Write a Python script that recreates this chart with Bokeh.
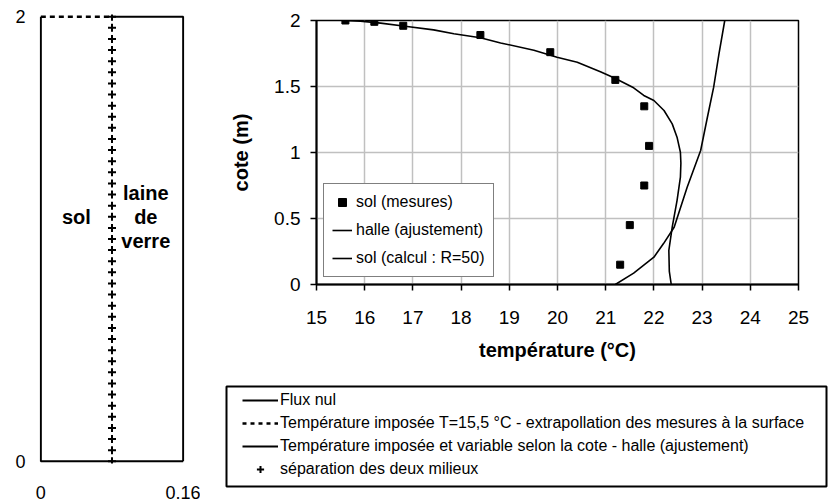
from bokeh.plotting import figure
from bokeh.models import Range1d, FixedTicker, NumeralTickFormatter, Legend, LegendItem
from bokeh.layouts import row, column
from bokeh.embed import file_html
from bokeh.resources import INLINE
from bokeh.core.properties import value

FONT = "Liberation Sans"

# ---------------- data : temperature profiles ----------------
mes_T = [15.6, 16.2, 16.8, 18.4, 19.85, 21.2, 21.8, 21.9, 21.8, 21.5, 21.3]
mes_z = [2.0, 1.99, 1.96, 1.89, 1.76, 1.55, 1.35, 1.05, 0.75, 0.45, 0.15]

halle_T = [21.2, 21.58, 22.0, 22.2, 22.42, 22.69, 22.97, 23.11, 23.24, 23.35, 23.47]
halle_z = [0.0, 0.086, 0.207, 0.31, 0.434, 0.737, 1.015, 1.267, 1.495, 1.747, 2.0]

sol_T = [22.36, 22.32, 22.31, 22.38, 22.48, 22.55, 22.56, 22.55, 22.48, 22.38, 22.21,
         22.0, 21.79, 21.58, 21.17, 20.89, 20.41, 19.99, 19.51, 18.82, 18.40, 17.85,
         17.43, 16.88, 16.33, 15.91, 15.57]
sol_z = [0.0, 0.1, 0.258, 0.434, 0.636, 0.813, 0.92, 1.002, 1.116, 1.217, 1.318,
         1.394, 1.432, 1.49, 1.566, 1.612, 1.684, 1.722, 1.775, 1.83, 1.869, 1.899,
         1.929, 1.955, 1.98, 1.995, 2.0]

temp_ticks = [15, 16, 17, 18, 19, 20, 21, 22, 23, 24, 25]
cote_ticks = [0, 0.5, 1, 1.5, 2]

# ---------------- data : schematic ----------------
schema_x_ticks = [0, 0.16]
schema_z_ticks = [0, 2]
flux_x = [0.0, 0.0, 0.16]
flux_z = [2.0, 0.0, 0.0]
imposed_x = [0.0, 0.08]
imposed_z = [2.0, 2.0]
variable_x = [0.08, 0.16, 0.16]
variable_z = [2.0, 2.0, 0.0]
sep_z = [0.0, 0.05, 0.1, 0.15, 0.2, 0.25, 0.3, 0.35, 0.4, 0.45, 0.5, 0.55, 0.6, 0.65,
         0.7, 0.75, 0.8, 0.85, 0.9, 0.95, 1.0, 1.05, 1.1, 1.15, 1.2, 1.25, 1.3, 1.35,
         1.4, 1.45, 1.5, 1.55, 1.6, 1.65, 1.7, 1.75, 1.8, 1.85, 1.9, 1.95, 2.0]
sep_x = [0.08] * len(sep_z)
region_labels = ["sol", "laine", "de", "verre"]
region_x = [0.04, 0.118, 0.118, 0.118]
region_z = [1.10, 1.205, 1.097, 0.99]

legend_labels = ["Flux nul",
                 "Température imposée T=15,5 °C - extrapollation des mesures à la surface",
                 "Température imposée et variable selon la cote - halle (ajustement)",
                 "séparation des deux milieux"]


def no_frame_align(fig):
    if "frame_align" in fig.properties():
        fig.frame_align = False


# ---------------- left : schematic ----------------
left = figure(width=200, height=501, x_range=Range1d(-0.0015, 0.1615),
              y_range=Range1d(-0.01, 2.01), output_backend="svg", toolbar_location=None,
              min_border_left=39, min_border_right=16, min_border_top=14, min_border_bottom=35)
no_frame_align(left)
left.outline_line_color = None
left.grid.visible = False
for ax in (left.xaxis, left.yaxis):
    ax.axis_line_color = None
    ax.major_tick_line_color = None
    ax.minor_tick_line_color = None
    ax.major_label_text_font = FONT
    ax.major_label_text_font_size = "18px"
    ax.major_label_text_color = "black"
    ax.formatter = NumeralTickFormatter(format="0.[00]")
left.xaxis.ticker = FixedTicker(ticks=schema_x_ticks)
left.yaxis.ticker = FixedTicker(ticks=schema_z_ticks)
left.xaxis.major_label_standoff = 16
left.yaxis.major_label_standoff = 8

left.line(flux_x, flux_z, line_color="black", line_width=2)
left.line(variable_x, variable_z, line_color="black", line_width=2)
left.line(imposed_x, imposed_z, line_color="black", line_width=2.5, line_dash="5 4")
left.scatter(sep_x, sep_z, marker="cross", size=8, line_color="black", line_width=2)
left.text(x=region_x, y=region_z, text=region_labels, text_font=value(FONT),
          text_font_style="bold", text_font_size="20px", text_align="center",
          text_baseline="middle", text_color="black")

# ---------------- right : temperature profiles ----------------
right = figure(width=628, height=370, x_range=Range1d(15, 25), y_range=Range1d(0, 2),
               output_backend="svg", toolbar_location=None,
               min_border_left=116, min_border_right=30, min_border_top=20, min_border_bottom=86)
no_frame_align(right)
right.outline_line_color = "black"
right.outline_line_width = 1.5
right.xgrid.grid_line_color = "#c0c0c0"
right.ygrid.grid_line_color = "#c0c0c0"
right.xgrid.grid_line_width = 1.5
right.ygrid.grid_line_width = 1.5
right.xaxis.ticker = FixedTicker(ticks=temp_ticks)
right.yaxis.ticker = FixedTicker(ticks=cote_ticks)
right.yaxis.formatter = NumeralTickFormatter(format="0.[0]")
for ax in (right.xaxis, right.yaxis):
    ax.axis_line_color = "black"
    ax.axis_line_width = 2
    ax.major_tick_line_color = "black"
    ax.major_tick_line_width = 1.5
    ax.major_tick_out = 6
    ax.major_tick_in = 0
    ax.minor_tick_line_color = None
    ax.major_label_text_font = FONT
    ax.major_label_text_font_size = "19px"
    ax.major_label_text_color = "black"
    ax.axis_label_text_font = FONT
    ax.axis_label_text_font_size = "20px"
    ax.axis_label_text_font_style = "bold"
    ax.axis_label_text_color = "black"
right.xaxis.axis_label = "température (°C)"
right.yaxis.axis_label = "cote (m)"
right.xaxis.major_label_standoff = 20
right.xaxis.axis_label_standoff = 12
right.yaxis.major_label_standoff = 10
right.yaxis.axis_label_standoff = 19

r_halle = right.line(halle_T, halle_z, line_color="black", line_width=1.6)
r_sol = right.line(sol_T, sol_z, line_color="black", line_width=1.6)
r_mes = right.scatter(mes_T, mes_z, marker="square", size=7, fill_color="black", line_color="black")

inner = Legend(items=[LegendItem(label="sol (mesures)", renderers=[r_mes]),
                      LegendItem(label="halle (ajustement)", renderers=[r_halle]),
                      LegendItem(label="sol (calcul : R=50)", renderers=[r_sol])],
               location=(7, 7), border_line_color="black", border_line_width=1.5,
               background_fill_color="white", background_fill_alpha=1.0,
               padding=8, margin=0, spacing=8, label_height=20, glyph_height=20,
               glyph_width=20, label_standoff=4, label_text_font=FONT,
               label_text_font_size="16px", label_text_color="black")
right.add_layout(inner, "center")

# ---------------- bottom : schematic legend ----------------
# ranges placed far from the schematic data so the legend's own renderers stay off-screen;
# the frame outline is the legend box
leg = figure(width=628, height=131, x_range=Range1d(100, 101), y_range=Range1d(100, 101),
             x_axis_type=None, y_axis_type=None, output_backend="svg", toolbar_location=None,
             min_border_left=26, min_border_right=2, min_border_top=16, min_border_bottom=15)
no_frame_align(leg)
leg.grid.visible = False
leg.outline_line_color = "black"
leg.outline_line_width = 2
d_flux = leg.line(flux_x, flux_z, line_color="black", line_width=2)
d_imp = leg.line(imposed_x, imposed_z, line_color="black", line_width=2.5, line_dash="4 4")
d_var = leg.line(variable_x, variable_z, line_color="black", line_width=2)
d_sep = leg.scatter(sep_x, sep_z, marker="cross", size=8, line_color="black", line_width=2)
outer = Legend(items=[LegendItem(label=legend_labels[0], renderers=[d_flux]),
                      LegendItem(label=legend_labels[1], renderers=[d_imp]),
                      LegendItem(label=legend_labels[2], renderers=[d_var]),
                      LegendItem(label=legend_labels[3], renderers=[d_sep])],
               location=(16, 8), border_line_color=None, background_fill_alpha=0,
               padding=0, margin=0, spacing=5, label_height=18, glyph_height=18,
               glyph_width=36, label_standoff=2, label_text_font=FONT,
               label_text_font_size="16px", label_text_color="black")
leg.add_layout(outer, "center")

if "frame_align" in leg.properties():
    page = row(left, column(right, leg))
else:
    page = row(left, column(right, row(leg)))
open("out.html", "w").write(file_html(page, INLINE))
